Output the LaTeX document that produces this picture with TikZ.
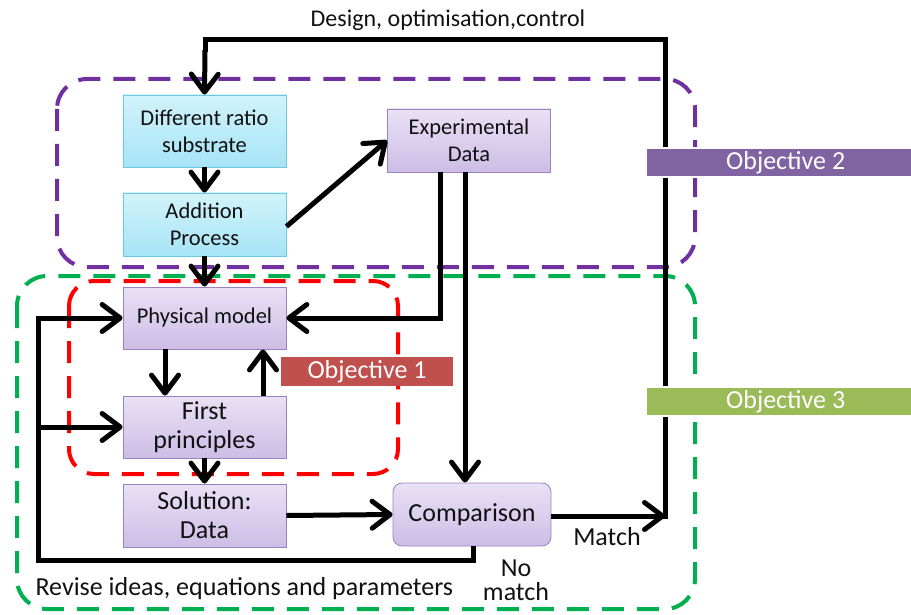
\documentclass[tikz,border=0pt]{standalone}
\usepackage{fontspec}
\setmainfont{Carlito}
\usetikzlibrary{arrows.meta,calc}
\definecolor{cyanT}{HTML}{D2F3FB}
\definecolor{cyanB}{HTML}{A6E4F6}
\definecolor{cyanD}{HTML}{6CC8E3}
\definecolor{purT}{HTML}{E9E1F5}
\definecolor{purB}{HTML}{CDBDE6}
\definecolor{purD}{HTML}{9A82BE}
\definecolor{obone}{HTML}{C0504D}
\definecolor{obtwo}{HTML}{8064A2}
\definecolor{obthree}{HTML}{9BBB59}
\definecolor{dpur}{HTML}{7030A0}
\definecolor{dgreen}{HTML}{00B050}
\definecolor{dred}{HTML}{FF0000}
\definecolor{txt}{HTML}{111111}
\begin{document}
\begin{tikzpicture}[x=1pt,y=-1pt,
  font=\fontsize{22.5}{27}\selectfont, text=txt,
  cbox/.style={draw=cyanD, line width=0.8pt, top color=cyanT, bottom color=cyanB, minimum width=163pt, minimum height=#1, align=center, inner sep=0pt},
  pbox/.style={draw=purD, line width=0.8pt, top color=purT, bottom color=purB, minimum width=163pt, minimum height=#1, align=center, inner sep=0pt},
  conn/.style={line width=5pt, draw=black},
  arr/.style={conn, -{Straight Barb[length=18pt,width=27pt,line width=5pt,round]}},
  region/.style={line width=4pt, dash pattern=on 22pt off 13pt, rounded corners=30pt},
  big/.style={font=\fontsize{26}{29}\selectfont},
  objbar/.style={minimum height=#1, inner sep=0pt, text=white, font=\fontsize{26}{28}\selectfont}
]
\useasboundingbox (0,0) rectangle (911,615);
% dashed regions
\draw[region, draw=dpur] (57,79) rectangle (695,267);
\draw[region, draw=dgreen] (17,276) rectangle (695,609);
\draw[region, draw=dred, rounded corners=25pt] (69,281) rectangle (398,474);

% nodes
\node[cbox=72pt] (diff) at (204.5,131) {Different ratio\\substrate};
\node[cbox=63pt] (add) at (204.5,224.5) {Addition\\Process};
\node[pbox=63pt] (exp) at (469,140.5) {Experimental\\Data};
\node[pbox=62pt] (phys) at (204.5,318) {Physical model};
\node[pbox=62pt, big] (first) at (204.5,427) {First\\principles};
\node[pbox=63pt, big] (sol) at (204.5,515.5) {Solution:\\Data};
\node[draw=purD, line width=0.8pt, top color=purT, bottom color=purB, rounded corners=9pt, minimum width=158pt, minimum height=63pt, inner sep=0pt, big] (comp) at (472,514.5) {Comparison};

% coordinates
\coordinate (tr) at (665,40);
\coordinate (tl) at (205,40);
\coordinate (mr) at (665,516);
\coordinate (nm) at (473,560);
\coordinate (bl) at (38,560);
\coordinate (lp) at (38,318);
\coordinate (lf) at (38,427);
\coordinate (ed) at (440,318);

% connectors
\draw[arr] (comp.east |- mr) -- (mr);
\draw[conn, line join=miter] (665,519) -- (tr) -- (tl) -- (205,52);
\draw[arr] (205,50) -- (diff.north);
\draw[arr] (diff.south) -- (add.north);
\draw[arr] (add.south) -- (phys.north);
\draw[arr] (add.east) ++(0,2) -- (exp.west);
\draw[conn] (exp.south -| ed) -- (ed);
\draw[arr] (442.5,318) -- (phys.east);
\draw[arr] (exp.south -| 465,0) -- (comp.north -| 465,0);
\draw[arr] (phys.south -| 165,0) -- (first.north -| 165,0);
\draw[arr] (first.north -| 263,0) -- (phys.south -| 263,0);
\draw[arr] (first.south) -- (sol.north);
\draw[arr] (sol.east) -- (comp.west);
\draw[conn, line join=miter] (comp.south -| nm) -- (nm) -- (bl) -- (lp);
\draw[arr] (35.5,318) -- (phys.west);
\draw[arr] (lf) -- (first.west);

% labels
\node[font=\fontsize{24}{26}\selectfont] (design) at (448,20) {Design, optimisation,control};
\node[big] (match) at (607,537) {Match};
\node[align=center, font=\fontsize{26}{24}\selectfont] (nomatch) at (516,580) {No\\match};
\node[anchor=west, big] (revise) at (32,589) {Revise ideas, equations and parameters};

% objective bars
\node[objbar=29pt, fill=obone, minimum width=172pt] (ob1) at (367,371.5) {Objective 1};
\fill[white] (645,147) rectangle (911,178);
\node[objbar=27pt, fill=obtwo, anchor=west, minimum width=264pt] (ob2) at (647,162.5) {\hspace*{13pt}Objective 2};
\fill[white] (645,386) rectangle (911,417);
\node[objbar=27pt, fill=obthree, anchor=west, minimum width=264pt] (ob3) at (647,401.5) {\hspace*{13pt}Objective 3};
\end{tikzpicture}
\end{document}
